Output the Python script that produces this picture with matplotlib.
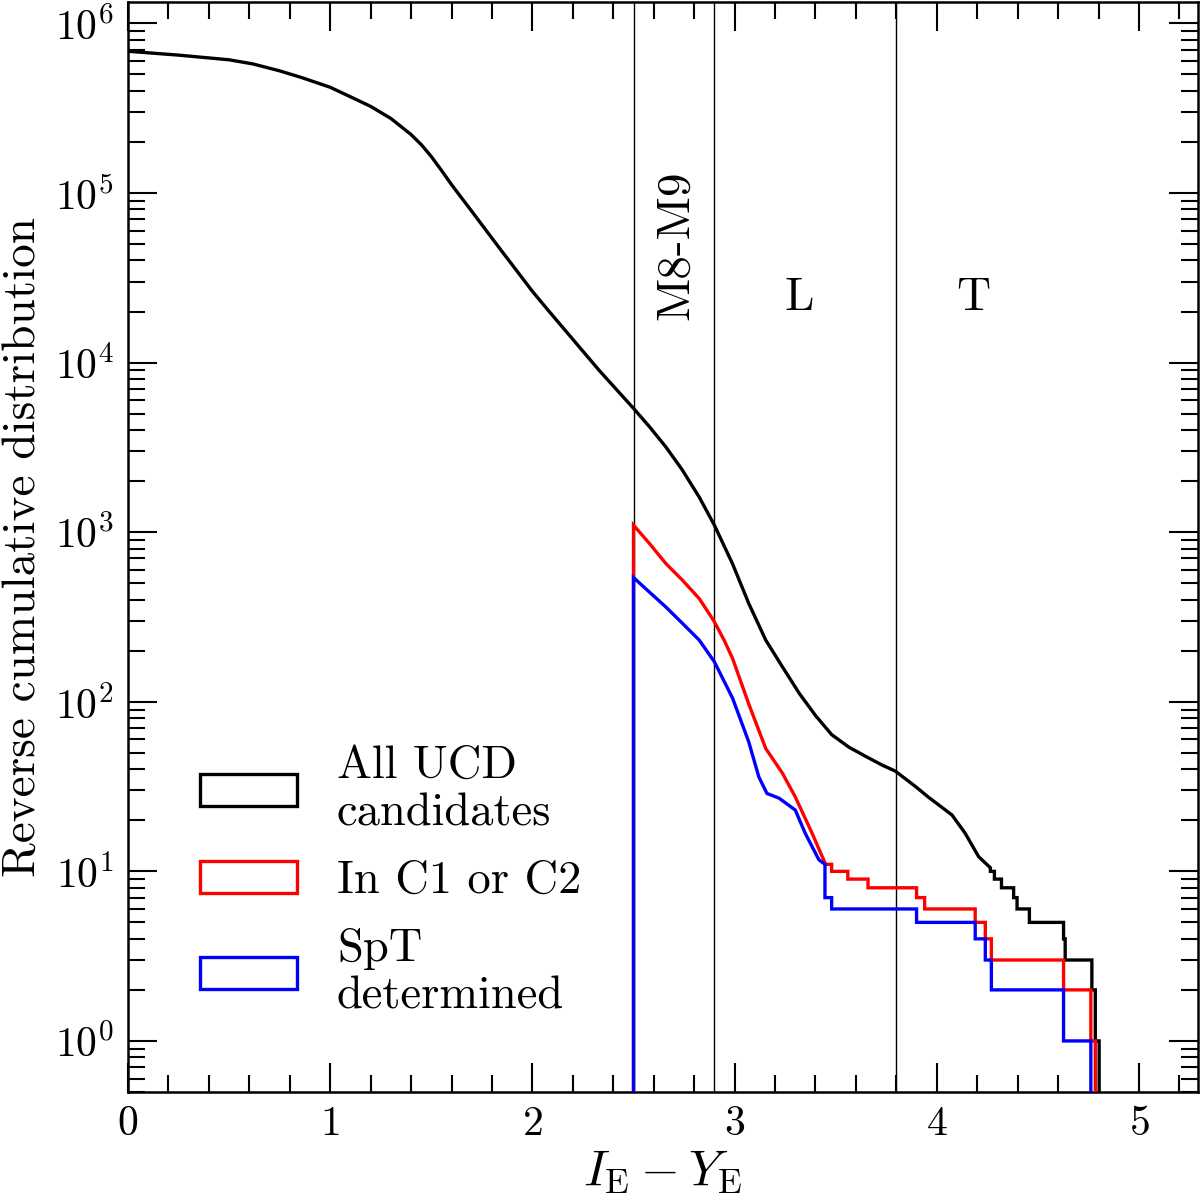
import numpy as np
import matplotlib
matplotlib.use("Agg")
import matplotlib.pyplot as plt
from matplotlib.patches import Patch
from matplotlib.ticker import MultipleLocator, LogLocator, NullFormatter

plt.rcParams['font.family'] = 'serif'
plt.rcParams['font.serif'] = ['cmr10', 'DejaVu Serif']
plt.rcParams['mathtext.fontset'] = 'cm'
plt.rcParams['axes.formatter.use_mathtext'] = True
plt.rcParams['axes.unicode_minus'] = False

# ---- data (reverse cumulative counts) ----
# smooth (densely populated) part of each distribution
black_x = [0.0, 0.25, 0.5, 0.617, 0.75, 0.864, 1.0, 1.111, 1.2, 1.3, 1.4, 1.45, 1.5, 1.55,
           1.6, 1.7, 1.84, 1.92, 2.0, 2.08, 2.17, 2.33, 2.5, 2.58, 2.66, 2.74, 2.825, 2.9,
           2.99, 3.07, 3.154, 3.236, 3.32, 3.40, 3.48, 3.565, 3.65, 3.73, 3.795, 3.895,
           3.96, 4.075, 4.14, 4.207, 4.265]
black_y = [6.85e5, 6.5e5, 6.1e5, 5.77e5, 5.25e5, 4.77e5, 4.2e5, 3.64e5, 3.24e5, 2.75e5,
           2.21e5, 1.93e5, 1.64e5, 1.36e5, 1.12e5, 7.8e4, 4.68e4, 3.51e4, 2.63e4, 2.02e4,
           1.51e4, 9.0e3, 5.37e3, 4.17e3, 3.18e3, 2.34e3, 1.61e3, 1.1e3, 6.5e2, 3.8e2,
           2.31e2, 1.61e2, 1.12e2, 83, 64, 54, 47.5, 42.3, 39, 31.6, 27.3, 21.5, 16.8,
           12.2, 10.5]
# sparse tail: bin edges and counts
black_edges = [4.265, 4.285, 4.32, 4.38, 4.397, 4.458, 4.627, 4.635, 4.767, 4.784, 4.803]
black_counts = [10, 9, 8, 7, 6, 5, 4, 3, 2, 1]

red_x = [2.5, 2.578, 2.66, 2.742, 2.825, 2.874, 2.9, 2.948, 2.99, 3.07, 3.154, 3.236,
         3.30, 3.384, 3.45, 3.48]
red_y = [1100, 860, 653, 521, 406, 331, 296, 231, 180, 97, 53, 38, 27.5, 16.7, 11, 11]
red_edges = [3.48, 3.56, 3.66, 3.90, 3.94, 4.19, 4.24, 4.27, 4.627, 4.762, 4.784]
red_counts = [10, 9, 8, 7, 6, 5, 4, 3, 2, 1]

blue_x = [2.5, 2.578, 2.66, 2.742, 2.825, 2.9, 2.99, 3.07, 3.12, 3.16, 3.22, 3.30,
          3.35, 3.417, 3.447]
blue_y = [540, 444, 362, 290, 231, 172, 105, 58, 36, 28.8, 27, 23, 16.7, 11.7, 11]
blue_edges = [3.447, 3.48, 3.90, 4.19, 4.24, 4.27, 4.627, 4.762]
blue_counts = [7, 6, 5, 4, 3, 2, 1]

class_bounds = [2.5, 2.9, 3.8]
class_labels = ["M8-M9", "L", "T"]
legend_labels = ["All UCD\ncandidates", "In C1 or C2", "SpT\ndetermined"]
colors = ["black", "red", "blue"]

FLOOR = 1e-2


def build_curve(sx, sy, edges, counts, start_floor):
    ex = np.repeat(np.asarray(edges, float), 2)[1:-1]
    ey = np.repeat(np.asarray(counts, float), 2)
    xs = list(sx) + list(ex) + [edges[-1]]
    ys = list(sy) + list(ey) + [FLOOR]
    if start_floor:
        xs = [sx[0]] + xs
        ys = [FLOOR] + ys
    return xs, ys


fig = plt.figure(figsize=(12, 11.98), dpi=100)
ax = fig.add_axes([0.1067, 0.0885, 0.8913, 0.9095])

curves = [
    build_curve(black_x, black_y, black_edges, black_counts, False),
    build_curve(red_x, red_y, red_edges, red_counts, True),
    build_curve(blue_x, blue_y, blue_edges, blue_counts, True),
]
for (xs, ys), c in zip(curves, colors):
    ax.plot(xs, ys, color=c, lw=2.4, solid_joinstyle='miter', zorder=3)

for b in class_bounds:
    ax.axvline(b, color='black', lw=1.0, zorder=2)

ax.set_yscale('log')
ax.set_xlim(0, 5.29)
ax.set_ylim(0.5, 1.33e6)

ax.xaxis.set_major_locator(MultipleLocator(1))
ax.xaxis.set_minor_locator(MultipleLocator(0.2))
ax.yaxis.set_major_locator(LogLocator(base=10, numticks=20))
ax.yaxis.set_minor_locator(LogLocator(base=10, subs=np.arange(2, 10), numticks=20))
ax.yaxis.set_minor_formatter(NullFormatter())
ax.xaxis.set_minor_formatter(NullFormatter())

ax.tick_params(which='both', direction='in', top=True, right=True, width=1.5,
               labelsize=30)
ax.tick_params(which='major', length=21, pad=10)
ax.tick_params(which='minor', length=12)
for s in ax.spines.values():
    s.set_linewidth(1.8)

ax.set_xlabel(r'$I_{\rm E} - Y_{\rm E}$', fontsize=36, labelpad=4)
ax.set_ylabel('Reverse cumulative distribution', fontsize=34, labelpad=8)

ax.text(2.71, 4.9e4, class_labels[0], rotation=90, ha='center', va='center', fontsize=34)
ax.text(3.32, 2.4e4, class_labels[1], ha='center', va='center', fontsize=34)
ax.text(4.18, 2.4e4, class_labels[2], ha='center', va='center', fontsize=34)

handles = [Patch(facecolor='none', edgecolor=c, linewidth=2.4) for c in colors]
ax.legend(handles, legend_labels, loc='lower left', bbox_to_anchor=(0.067, 0.068),
          frameon=False, fontsize=33.5, handlelength=2.1, handleheight=0.7,
          handletextpad=0.85, labelspacing=0.55, borderpad=0, borderaxespad=0)

fig.savefig('out.png', dpi=100)
